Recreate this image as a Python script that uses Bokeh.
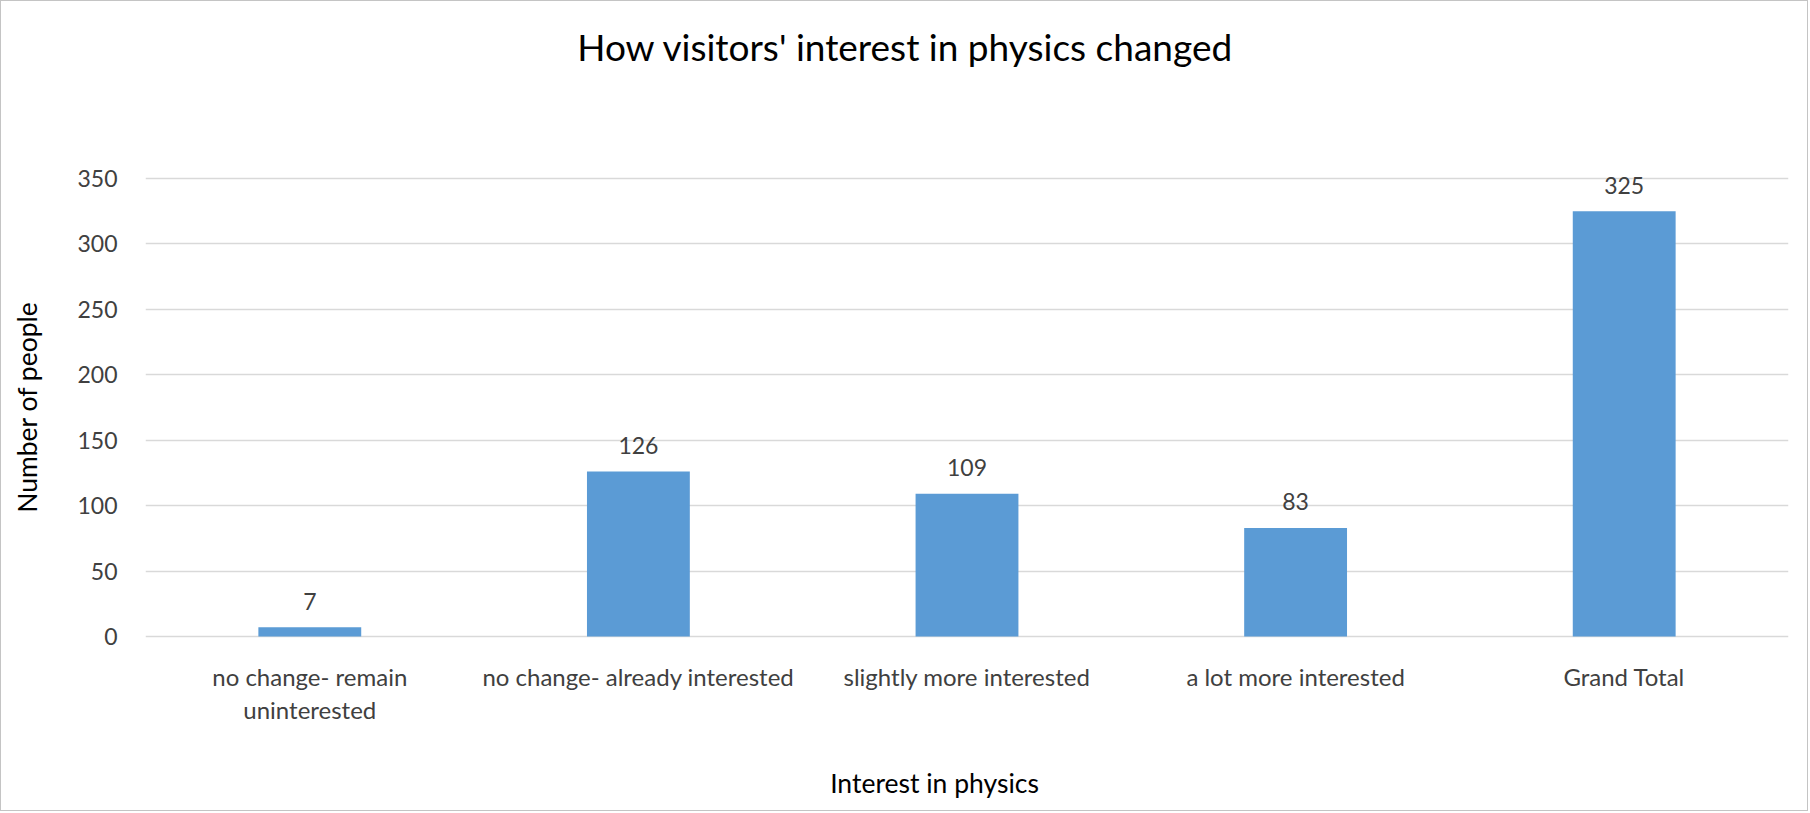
from bokeh.plotting import figure
from bokeh.models import ColumnDataSource, FactorRange, Range1d, FixedTicker, Label, LabelSet
from bokeh.core.properties import value
from bokeh.embed import file_html
from bokeh.resources import INLINE

# ---- data ----
categories = [
    "no change- remain uninterested",
    "no change- already interested",
    "slightly more interested",
    "a lot more interested",
    "Grand Total",
]
counts = [7, 126, 109, 83, 325]
# category tick labels, as wrapped on two lines
tick_line1 = ["no change- remain", "no change- already interested", "slightly more interested",
              "a lot more interested", "Grand Total"]
tick_line2 = ["uninterested", "", "", "", ""]
y_ticks = [0, 50, 100, 150, 200, 250, 300, 350]
title_text = "How visitors' interest in physics changed"
x_title = "Interest in physics"
y_title = "Number of people"

# ---- style / layout ----
FONT = "Lato"
BAR = "#5B9BD5"
GRID = "#d9d9d9"
TICK_TXT = "#404040"
W, H = 1808, 811            # + 1px CSS border on each side -> 1810 x 813
FRAME_L, FRAME_R = 144, 1787
Y0_PX, Y350_PX = 635, 177   # pixel rows of the 0 and 350 gridlines
px_per_unit = (Y0_PX - Y350_PX) / 350.0
y_top = Y0_PX / px_per_unit
y_bottom = -(H - Y0_PX) / px_per_unit

src = ColumnDataSource(dict(cat=categories, n=counts, lbl=[str(v) for v in counts],
                            l1=tick_line1, l2=tick_line2, zero=[0] * len(categories)))

p = figure(
    x_range=FactorRange(factors=categories, range_padding=0),
    y_range=Range1d(y_bottom, y_top),
    width=W, height=H,
    x_axis_location=None,
    output_backend="svg", toolbar_location=None,
    min_border_left=FRAME_L, min_border_right=W - FRAME_R,
    min_border_top=0, min_border_bottom=0,
    styles={"border": "1px solid #c4c4c4"},
)
p.outline_line_color = None
p.background_fill_color = "white"
p.border_fill_color = "white"

# grid
p.xgrid.grid_line_color = None
p.ygrid.grid_line_color = GRID
p.ygrid.grid_line_width = 1.5

p.vbar(x="cat", top="n", width=0.313, source=src, fill_color=BAR, line_color=None)

# data labels
p.add_layout(LabelSet(x="cat", y="n", text="lbl", source=src, y_offset=26,
                      text_align="center", text_baseline="middle",
                      text_font=value(FONT), text_font_size="23px", text_color=TICK_TXT))

# category labels
p.add_layout(LabelSet(x="cat", y="zero", text="l1", source=src, y_offset=-40,
                      text_align="center", text_baseline="middle",
                      text_font=value(FONT), text_font_size="24px", text_color=TICK_TXT))
p.add_layout(LabelSet(x="cat", y="zero", text="l2", source=src, y_offset=-73,
                      text_align="center", text_baseline="middle",
                      text_font=value(FONT), text_font_size="24px", text_color=TICK_TXT))

# y axis
p.yaxis.ticker = FixedTicker(ticks=y_ticks)
p.yaxis.axis_line_color = None
p.yaxis.major_tick_line_color = None
p.yaxis.minor_tick_line_color = None
p.yaxis.major_label_text_font = FONT
p.yaxis.major_label_text_font_size = "23px"
p.yaxis.major_label_text_color = TICK_TXT
p.yaxis.major_label_standoff = 22
p.yaxis.axis_label = y_title
p.yaxis.axis_label_text_font = FONT
p.yaxis.axis_label_text_font_size = "26.5px"
p.yaxis.axis_label_text_font_style = "normal"
p.yaxis.axis_label_text_color = "#000000"
p.yaxis.axis_label_standoff = 31

# chart title and x-axis title (screen units relative to the frame)
p.add_layout(Label(x=904 - FRAME_L, y=H - 45, x_units="screen", y_units="screen", text=title_text,
                   text_align="center", text_baseline="middle",
                   text_font=FONT, text_font_size="37px", text_color="#000000"))
p.add_layout(Label(x=933 - FRAME_L, y=H - 781, x_units="screen", y_units="screen", text=x_title,
                   text_align="center", text_baseline="middle",
                   text_font=FONT, text_font_size="26.5px", text_color="#000000"))

open("out.html", "w").write(file_html(p, INLINE))
